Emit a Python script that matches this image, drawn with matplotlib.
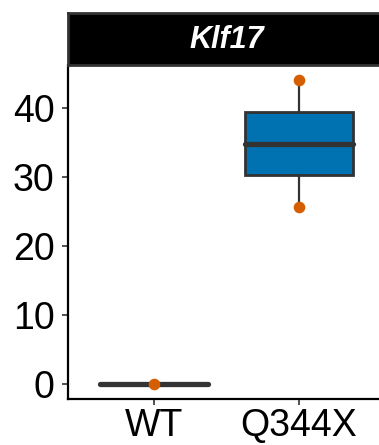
import matplotlib
matplotlib.use('Agg')
import matplotlib.pyplot as plt

groups = ['WT', 'Q344X']
q1 = [0.0, 30.3]
med = [0.0, 34.9]
q3 = [0.0, 39.5]
whislo = [0.0, 25.7]
whishi = [0.0, 44.1]
point_x = ['WT', 'Q344X', 'Q344X']
point_y = [0.0, 44.1, 25.7]
title = 'Klf17'
yticks = [0, 10, 20, 30, 40]

plt.rcParams['font.family'] = ['Liberation Sans', 'DejaVu Sans']

W, H = 379, 445
fig = plt.figure(figsize=(W / 100, H / 100), dpi=100)

def box(x0, y0, x1, y1):
    return [x0 / W, 1 - y1 / H, (x1 - x0) / W, (y1 - y0) / H]

# panel runs a little past the right edge, like the reference
ax = fig.add_axes(box(68, 65, 385, 399))
strip = fig.add_axes(box(68, 13, 385, 65))

stats = []
for i, g in enumerate(groups):
    stats.append(dict(label=g, q1=q1[i], med=med[i], q3=q3[i],
                      whislo=whislo[i], whishi=whishi[i], fliers=[]))

ax.bxp(stats, positions=[1, 2], widths=0.75, patch_artist=True,
       showcaps=False,
       boxprops=dict(facecolor='#0072B2', edgecolor='#333333', linewidth=2),
       medianprops=dict(color='#333333', linewidth=3.8, solid_capstyle='round'),
       whiskerprops=dict(color='#333333', linewidth=1.6))

xpos = [groups.index(g) + 1 for g in point_x]
ax.scatter(xpos, point_y, s=70, color='#D55E00', zorder=5, linewidths=0)

ax.set_xlim(0.4, 2.6)
ax.set_ylim(-2.2, 46.3)
ax.set_yticks(yticks)
ax.set_xticks([1, 2])
ax.set_xticklabels(groups)
ax.tick_params(axis='both', labelsize=27, color='#333333', length=4.5, width=1.2,
               labelcolor='black')
ax.tick_params(axis='x', pad=2)
ax.tick_params(axis='y', pad=5)
for s in ['top', 'right']:
    ax.spines[s].set_visible(False)
for s in ['left', 'bottom']:
    ax.spines[s].set_linewidth(1.6)
    ax.spines[s].set_color('black')

strip.set_facecolor('black')
strip.set_xticks([])
strip.set_yticks([])
for s in strip.spines.values():
    s.set_color('#333333')
    s.set_linewidth(2)
strip.text(0.5, 0.48, title, color='white', fontsize=22, fontweight='bold',
           fontstyle='italic', ha='center', va='center', transform=strip.transAxes)

fig.savefig('out.png', dpi=100)
